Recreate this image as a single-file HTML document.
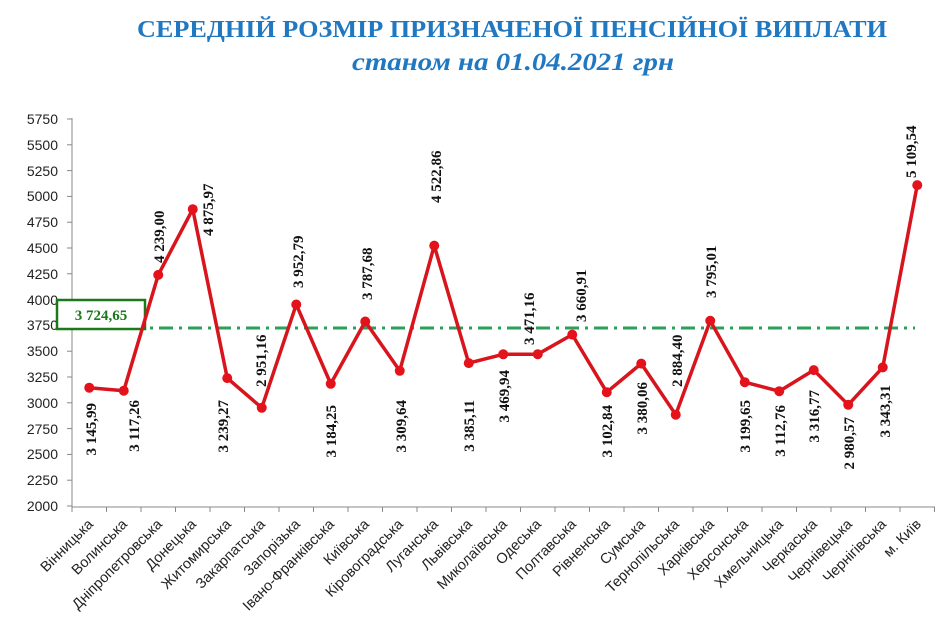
<!DOCTYPE html>
<html><head><meta charset="utf-8"><style>
html,body{margin:0;padding:0;background:#fff;}
svg{display:block;}
</style></head><body>
<svg width="939" height="629" viewBox="0 0 939 629" xmlns="http://www.w3.org/2000/svg">
<g font-family="'Liberation Serif', serif" font-weight="bold" fill="#1f78c1" text-anchor="middle">
<text x="512" y="37" font-size="24" textLength="750" lengthAdjust="spacingAndGlyphs">СЕРЕДНІЙ РОЗМІР ПРИЗНАЧЕНОЇ ПЕНСІЙНОЇ ВИПЛАТИ</text>
<text x="513" y="70" font-size="25" font-style="italic" textLength="322" lengthAdjust="spacingAndGlyphs">станом на 01.04.2021 грн</text>
</g>
<g stroke="#888" stroke-width="1">
<line x1="72" y1="118" x2="72" y2="507"/>
<line x1="72" y1="507" x2="935" y2="507"/>
<line x1="67" y1="119" x2="72" y2="119"/><line x1="67" y1="144.8" x2="72" y2="144.8"/><line x1="67" y1="170.6" x2="72" y2="170.6"/><line x1="67" y1="196.4" x2="72" y2="196.4"/><line x1="67" y1="222.2" x2="72" y2="222.2"/><line x1="67" y1="248" x2="72" y2="248"/><line x1="67" y1="273.8" x2="72" y2="273.8"/><line x1="67" y1="299.6" x2="72" y2="299.6"/><line x1="67" y1="325.4" x2="72" y2="325.4"/><line x1="67" y1="351.2" x2="72" y2="351.2"/><line x1="67" y1="377" x2="72" y2="377"/><line x1="67" y1="402.8" x2="72" y2="402.8"/><line x1="67" y1="428.6" x2="72" y2="428.6"/><line x1="67" y1="454.4" x2="72" y2="454.4"/><line x1="67" y1="480.2" x2="72" y2="480.2"/><line x1="67" y1="506" x2="72" y2="506"/>
<line x1="72" y1="507" x2="72" y2="512"/><line x1="106.5" y1="507" x2="106.5" y2="512"/><line x1="141" y1="507" x2="141" y2="512"/><line x1="175.5" y1="507" x2="175.5" y2="512"/><line x1="210" y1="507" x2="210" y2="512"/><line x1="244.5" y1="507" x2="244.5" y2="512"/><line x1="279" y1="507" x2="279" y2="512"/><line x1="313.5" y1="507" x2="313.5" y2="512"/><line x1="348" y1="507" x2="348" y2="512"/><line x1="382.5" y1="507" x2="382.5" y2="512"/><line x1="417" y1="507" x2="417" y2="512"/><line x1="451.5" y1="507" x2="451.5" y2="512"/><line x1="486" y1="507" x2="486" y2="512"/><line x1="520.5" y1="507" x2="520.5" y2="512"/><line x1="555" y1="507" x2="555" y2="512"/><line x1="589.5" y1="507" x2="589.5" y2="512"/><line x1="624" y1="507" x2="624" y2="512"/><line x1="658.5" y1="507" x2="658.5" y2="512"/><line x1="693" y1="507" x2="693" y2="512"/><line x1="727.5" y1="507" x2="727.5" y2="512"/><line x1="762" y1="507" x2="762" y2="512"/><line x1="796.5" y1="507" x2="796.5" y2="512"/><line x1="831" y1="507" x2="831" y2="512"/><line x1="865.5" y1="507" x2="865.5" y2="512"/><line x1="900" y1="507" x2="900" y2="512"/><line x1="934.5" y1="507" x2="934.5" y2="512"/>
</g>
<g font-family="'Liberation Sans', sans-serif" font-size="14" fill="#222" text-anchor="end">
<text x="58" y="124">5750</text><text x="58" y="150">5500</text><text x="58" y="176">5250</text><text x="58" y="201">5000</text><text x="58" y="227">4750</text><text x="58" y="253">4500</text><text x="58" y="279">4250</text><text x="58" y="305">4000</text><text x="58" y="330">3750</text><text x="58" y="356">3500</text><text x="58" y="382">3250</text><text x="58" y="408">3000</text><text x="58" y="434">2750</text><text x="58" y="459">2500</text><text x="58" y="485">2250</text><text x="58" y="511">2000</text>
</g>
<g font-family="'Liberation Sans', sans-serif" font-size="14.5" fill="#222" text-anchor="end">
<text transform="translate(94,525) rotate(-45)">Вінницька</text>
<text transform="translate(128,525) rotate(-45)">Волинська</text>
<text transform="translate(163,525) rotate(-45)">Дніпропетровська</text>
<text transform="translate(197,525) rotate(-45)">Донецька</text>
<text transform="translate(232,525) rotate(-45)">Житомирська</text>
<text transform="translate(266,525) rotate(-45)">Закарпатська</text>
<text transform="translate(301,525) rotate(-45)">Запорізька</text>
<text transform="translate(335,525) rotate(-45)">Івано-Франківська</text>
<text transform="translate(370,525) rotate(-45)">Київська</text>
<text transform="translate(404,525) rotate(-45)">Кіровоградська</text>
<text transform="translate(439,525) rotate(-45)">Луганська</text>
<text transform="translate(473,525) rotate(-45)">Львівська</text>
<text transform="translate(508,525) rotate(-45)">Миколаївська</text>
<text transform="translate(542,525) rotate(-45)">Одеська</text>
<text transform="translate(577,525) rotate(-45)">Полтавська</text>
<text transform="translate(611,525) rotate(-45)">Рівненська</text>
<text transform="translate(646,525) rotate(-45)">Сумська</text>
<text transform="translate(680,525) rotate(-45)">Тернопільська</text>
<text transform="translate(715,525) rotate(-45)">Харківська</text>
<text transform="translate(749,525) rotate(-45)">Херсонська</text>
<text transform="translate(784,525) rotate(-45)">Хмельницька</text>
<text transform="translate(818,525) rotate(-45)">Черкаська</text>
<text transform="translate(853,525) rotate(-45)">Чернівецька</text>
<text transform="translate(887,525) rotate(-45)">Чернігівська</text>
<text transform="translate(922,525) rotate(-45)">м. Київ</text>
</g>
<line x1="72" y1="328" x2="915" y2="328" stroke="#2aa05a" stroke-width="3" stroke-dasharray="14,6,3,6"/>
<rect x="57" y="300" width="88" height="29" fill="#fff" stroke="#1a7a1a" stroke-width="2.5"/>
<text x="101" y="320" font-family="'Liberation Serif', serif" font-weight="bold" font-size="15" fill="#1a7a1a" text-anchor="middle">3 724,65</text>
<polyline fill="none" stroke="#d8141c" stroke-width="3.5" stroke-linejoin="round" points="89.25,387.7 123.75,390.7 158.25,274.9 192.75,209.2 227.25,378.1 261.75,407.8 296.25,304.5 330.75,383.8 365.25,321.5 399.75,370.8 434.25,245.6 468.75,363.1 503.25,354.3 537.75,354.2 572.25,334.6 606.75,392.2 641.25,363.6 675.75,414.7 710.25,320.8 744.75,382.2 779.25,391.2 813.75,370.1 848.25,404.8 882.75,367.4 917.25,185.1"/>
<g fill="#e3121b">
<circle cx="89.25" cy="387.7" r="5"/><circle cx="123.75" cy="390.7" r="5"/><circle cx="158.25" cy="274.9" r="5"/><circle cx="192.75" cy="209.2" r="5"/><circle cx="227.25" cy="378.1" r="5"/><circle cx="261.75" cy="407.8" r="5"/><circle cx="296.25" cy="304.5" r="5"/><circle cx="330.75" cy="383.8" r="5"/><circle cx="365.25" cy="321.5" r="5"/><circle cx="399.75" cy="370.8" r="5"/><circle cx="434.25" cy="245.6" r="5"/><circle cx="468.75" cy="363.1" r="5"/><circle cx="503.25" cy="354.3" r="5"/><circle cx="537.75" cy="354.2" r="5"/><circle cx="572.25" cy="334.6" r="5"/><circle cx="606.75" cy="392.2" r="5"/><circle cx="641.25" cy="363.6" r="5"/><circle cx="675.75" cy="414.7" r="5"/><circle cx="710.25" cy="320.8" r="5"/><circle cx="744.75" cy="382.2" r="5"/><circle cx="779.25" cy="391.2" r="5"/><circle cx="813.75" cy="370.1" r="5"/><circle cx="848.25" cy="404.8" r="5"/><circle cx="882.75" cy="367.4" r="5"/><circle cx="917.25" cy="185.1" r="5"/>
</g>
<g font-family="'Liberation Serif', serif" font-weight="bold" font-size="15" fill="#111">
<g text-anchor="end">
<text transform="translate(96,403) rotate(-90)">3 145,99</text>
<text transform="translate(139,400) rotate(-90)">3 117,26</text>
<text transform="translate(228,400) rotate(-90)">3 239,27</text>
<text transform="translate(336,405) rotate(-90)">3 184,25</text>
<text transform="translate(406,400) rotate(-90)">3 309,64</text>
<text transform="translate(474,400) rotate(-90)">3 385,11</text>
<text transform="translate(509,370) rotate(-90)">3 469,94</text>
<text transform="translate(612,405) rotate(-90)">3 102,84</text>
<text transform="translate(647,382) rotate(-90)">3 380,06</text>
<text transform="translate(750,400) rotate(-90)">3 199,65</text>
<text transform="translate(785,405) rotate(-90)">3 112,76</text>
<text transform="translate(819,390) rotate(-90)">3 316,77</text>
<text transform="translate(854,417) rotate(-90)">2 980,57</text>
<text transform="translate(890,385) rotate(-90)">3 343,31</text>
</g>
<g text-anchor="start">
<text transform="translate(164,263) rotate(-90)">4 239,00</text>
<text transform="translate(213,236) rotate(-90)">4 875,97</text>
<text transform="translate(266,387) rotate(-90)">2 951,16</text>
<text transform="translate(303,288) rotate(-90)">3 952,79</text>
<text transform="translate(372,300) rotate(-90)">3 787,68</text>
<text transform="translate(441,203) rotate(-90)">4 522,86</text>
<text transform="translate(534,345) rotate(-90)">3 471,16</text>
<text transform="translate(586,322) rotate(-90)">3 660,91</text>
<text transform="translate(682,387) rotate(-90)">2 884,40</text>
<text transform="translate(716,298) rotate(-90)">3 795,01</text>
<text transform="translate(916,178) rotate(-90)">5 109,54</text>
</g>
</g>
</svg>
</body></html>
